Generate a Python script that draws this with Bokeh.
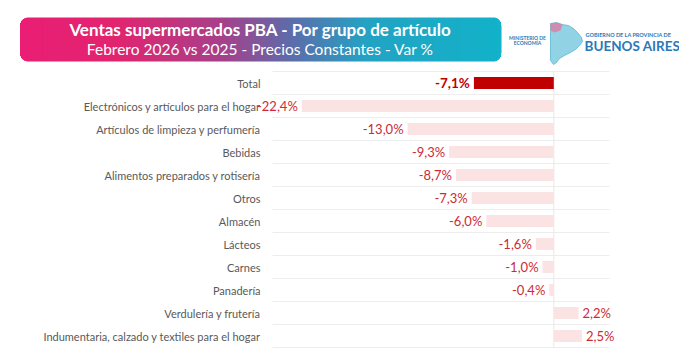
from bokeh.plotting import figure
from bokeh.models import Range1d, ColumnDataSource
from bokeh.core.properties import value
from bokeh.embed import file_html
from bokeh.resources import INLINE

# ---------------- data ----------------
categories = [
    "Total",
    "Electrónicos y artículos para el hogar",
    "Artículos de limpieza y perfumería",
    "Bebidas",
    "Alimentos preparados y rotisería",
    "Otros",
    "Almacén",
    "Lácteos",
    "Carnes",
    "Panadería",
    "Verdulería y frutería",
    "Indumentaria, calzado y textiles para el hogar",
]
values = [-7.1, -22.4, -13.0, -9.3, -8.7, -7.3, -6.0, -1.6, -1.0, -0.4, 2.2, 2.5]
title = "Ventas supermercados PBA - Por grupo de artículo"
subtitle = "Febrero 2026 vs 2025 - Precios Constantes - Var %"

FONT = "Lato"
W, H = 679, 355

# layout constants (pixels)
ZERO_PX, PX_PER_UNIT = 553.3, 11.25
ROW_TOP, ROW_H = 71.0, 23.0
n = len(categories)

x0 = (0 - ZERO_PX) / PX_PER_UNIT
x1 = (W - ZERO_PX) / PX_PER_UNIT
y_start = (H - ROW_TOP) / ROW_H
y_end = -ROW_TOP / ROW_H

p = figure(width=W, height=H, x_range=Range1d(x0, x1), y_range=Range1d(y_start, y_end),
           output_backend="svg", toolbar_location=None, min_border=0,
           x_axis_location=None, y_axis_location=None)
p.extra_x_ranges = {"px": Range1d(0, W)}
p.extra_y_ranges = {"py": Range1d(H, 0)}
p.grid.visible = False
p.outline_line_color = None

# ---------------- header ----------------
def hex2rgb(h):
    h = h.lstrip("#")
    return tuple(int(h[i:i + 2], 16) for i in (0, 2, 4))

stops = [(0.0, "#E91E74"), (0.2, "#E2246F"), (0.42, "#A6408A"), (0.56, "#5E6BAA"),
         (0.72, "#22A3C4"), (1.0, "#12B2C9")]

def grad(t):
    for (t0, c0), (t1, c1) in zip(stops[:-1], stops[1:]):
        if t0 <= t <= t1:
            f = (t - t0) / (t1 - t0)
            a, b = hex2rgb(c0), hex2rgb(c1)
            return "#%02x%02x%02x" % tuple(int(round(a[i] + (b[i] - a[i]) * f)) for i in range(3))
    return stops[-1][1]

bx0, bx1, by0, by1, r = 19.5, 501.0, 17.0, 61.0, 8.0
lefts, rights, tops, bottoms, cols = [], [], [], [], []
x = bx0
while x < bx1:
    xm = x + 0.5
    dx = min(xm - bx0, bx1 - xm)
    inset = 0.0
    if dx < r:
        inset = r - (r * r - (r - dx) ** 2) ** 0.5
    lefts.append(x)
    rights.append(min(x + 1.05, bx1))
    tops.append(by0 + inset)
    bottoms.append(by1 - inset)
    cols.append(grad((xm - bx0) / (bx1 - bx0)))
    x += 1.0
p.quad(left=lefts, right=rights, top=tops, bottom=bottoms, fill_color=cols, line_color=None,
       x_range_name="px", y_range_name="py")

p.text(x=[260], y=[29], text=[title], text_color="white", text_font=value(FONT),
       text_font_style="bold", text_font_size="17px", text_align="center", text_baseline="middle",
       x_range_name="px", y_range_name="py")
p.text(x=[260], y=[48], text=[subtitle], text_color="white", text_font=value(FONT),
       text_font_size="15.5px", text_align="center", text_baseline="middle",
       x_range_name="px", y_range_name="py")

# logo
blue = "#2A78B8"
p.text(x=[527, 527], y=[37, 42], text=["MINISTERIO DE", "ECONOMÍA"], text_color=blue,
       text_font=value(FONT), text_font_style="bold", text_font_size="5px",
       text_align="center", text_baseline="middle", x_range_name="px", y_range_name="py")
map_x = [550, 556, 562, 568, 573, 577, 581, 582, 579, 575, 570, 564, 559, 556, 553, 550]
map_y = [23, 22, 24, 25, 28, 32, 37, 41, 45, 49, 52, 55, 58, 62, 64, 60]
p.patch(map_x, map_y, fill_color="#6EC3DC", fill_alpha=0.75, line_color="#3AA6CC", line_width=0.6,
        x_range_name="px", y_range_name="py")
p.patch([550, 556, 562, 560, 554, 550], [23, 22, 24, 30, 32, 30], fill_color="#E8709A",
        fill_alpha=0.7, line_color=None, x_range_name="px", y_range_name="py")
p.text(x=[585], y=[34.5], text=["GOBIERNO DE LA PROVINCIA DE"], text_color=blue,
       text_font=value(FONT), text_font_style="bold", text_font_size="5.5px",
       text_align="left", text_baseline="middle", x_range_name="px", y_range_name="py")
p.text(x=[584], y=[45], text=["BUENOS AIRES"], text_color=blue,
       text_font=value(FONT), text_font_style="bold", text_font_size="13.5px",
       text_align="left", text_baseline="middle", x_range_name="px", y_range_name="py")

# ---------------- main chart ----------------
rows = [i + 0.5 for i in range(n)]
bounds = list(range(n + 1))

p.segment(x0=[272] * (n + 1), x1=[609] * (n + 1), y0=bounds, y1=bounds,
          line_color="#EDEDED", line_width=1, x_range_name="px")
p.segment(x0=[0], x1=[0], y0=[0], y1=[n], line_color="#E8E8E8", line_width=1)

# category labels
p.text(x=[260] * n, y=rows, text=categories, text_align="right", text_baseline="middle",
       text_font=value(FONT), text_font_size="11px", text_color="#595959", x_range_name="px")

bar_colors = ["#C00000" if c == "Total" else "#FBE3E4" for c in categories]
labels = [("%.1f" % v).replace(".", ",") + "%" for v in values]
src = ColumnDataSource(dict(
    y=rows, val=values, color=bar_colors, lbl=labels,
    align=["right" if v < 0 else "left" for v in values],
    off=[-4 if v < 0 else 4 for v in values],
    style=["bold" if c == "Total" else "normal" for c in categories],
    tcolor=["#C00000" if c == "Total" else "#CC2B36" for c in categories],
    tsize=["13.5px" if c == "Total" else "13px" for c in categories],
))
p.hbar(y="y", left=0, right="val", height=0.52, fill_color="color", line_color=None, source=src)
p.text(x="val", y="y", text="lbl", text_align="align", x_offset="off", text_baseline="middle",
       text_font=value(FONT), text_font_style="style", text_color="tcolor", text_font_size="tsize",
       source=src)

open("out.html", "w").write(file_html(p, INLINE))
